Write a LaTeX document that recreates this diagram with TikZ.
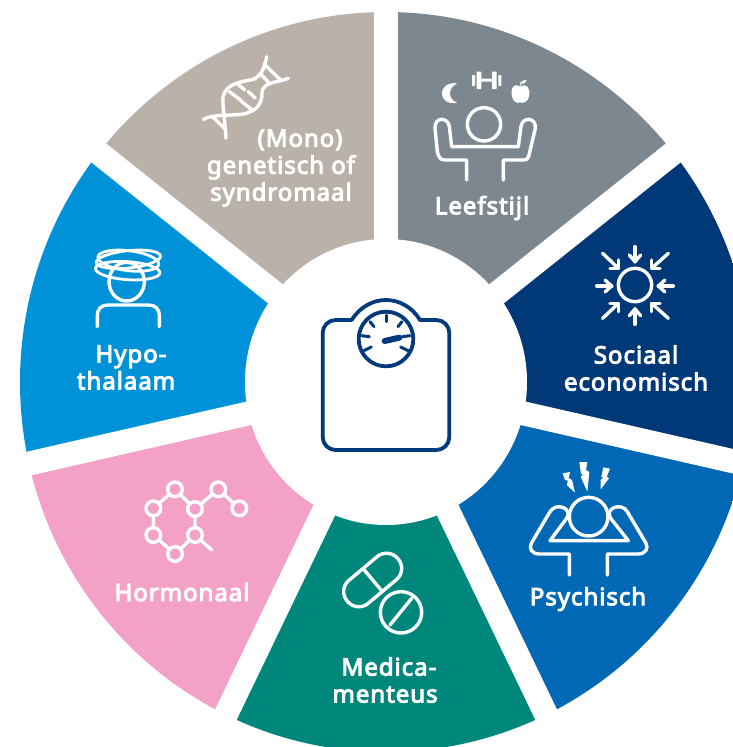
\documentclass[tikz,border=0pt]{standalone}
\usepackage{fontspec}
\setmainfont{Noto Sans}
\newfontfamily\labfont[FakeBold=4,LetterSpace=4]{Noto Sans}
\definecolor{beigec}{HTML}{BAB2A9}
\definecolor{greyc}{HTML}{7C8790}
\definecolor{navyc}{HTML}{003878}
\definecolor{bluec}{HTML}{0068B4}
\definecolor{tealc}{HTML}{00877C}
\definecolor{pinkc}{HTML}{F3A1C6}
\definecolor{skyc}{HTML}{0092D8}
\definecolor{scalec}{HTML}{003A7D}
\tikzset{
  lab/.style={text=white,font=\labfont\fontsize{24}{27}\selectfont,align=center,inner sep=0pt},
  ico/.style={x=0.33333pt,y=-0.33333pt,draw=white,line width=3.4pt,line join=round,line cap=round},
  icofill/.style={fill=white,draw=none},
  gap/.style={draw=white,line width=24pt,line cap=butt}
}
\newcommand{\wedgeat}[4]{\fill[#1] (c) -- ([shift={(#2:900)}]c) -- ([shift={(#3:1500)}]c) -- ([shift={(#4:900)}]c) -- cycle;}
\begin{document}
\begin{tikzpicture}[x=1pt,y=-1pt]
\useasboundingbox (0,0) rectangle (733,747);
\coordinate (c) at (386,382);
\begin{scope}
\clip (0,0) rectangle (733,747);
\clip (c) ellipse[x radius=366,y radius=370];
\wedgeat{beigec}{218.57}{244.3}{270}
\wedgeat{greyc}{-90}{-64.3}{-38.57}
\wedgeat{navyc}{-38.57}{-12.85}{12.86}
\wedgeat{bluec}{12.86}{38.57}{64.29}
\wedgeat{tealc}{64.29}{90}{115.71}
\wedgeat{pinkc}{115.71}{141.43}{167.14}
\wedgeat{skyc}{167.14}{192.85}{218.57}
\end{scope}
\foreach \a in {-90,-38.57,12.86,64.29,115.71,167.14,218.57}
  \draw[gap] (c) -- ([shift={(\a:430)}]c);
\fill[white] (c) ellipse[x radius=141,y radius=143];
% labels
\node[lab] (mono) at (281,168) {\hspace*{38pt}(Mono)\\genetisch of\\syndromaal};
\node[lab] (leef) at (482,208) {Leefstijl};
\node[lab] (soc) at (636,368) {Sociaal\\economisch};
\node[lab] (psy) at (588,599) {Psychisch};
\node[lab] (med) at (385,680) {\hspace*{8pt}Medica-\\menteus};
\node[lab] (hor) at (182,592) {Hormonaal};
\node[lab] (hyp) at (126,367.5) {\hspace*{10pt}Hypo-\\thalaam};
% DNA
\begin{scope}[shift={(190,40)},ico]
\draw (230,50) .. controls (222,90) and (212,108) .. (190,118) .. controls (150,126) and (110,130) .. (99,170) .. controls (97,200) and (105,240) .. (108,295);
\draw (295,115) .. controls (262,128) and (222,125) .. (216,155) .. controls (218,195) and (195,215) .. (160,222) .. controls (120,228) and (70,222) .. (40,238);
\draw (222,72) -- (272,120);
\draw (210,100) -- (235,126);
\draw (70,232) -- (108,270);
\draw (140,130) -- (165,150);
\draw (118,155) -- (152,180);
\draw (175,155) -- (196,174);
\draw (152,182) -- (186,210);
\end{scope}
% Leefstijl
\begin{scope}[shift={(420,60)},ico]
\draw (192,193) circle[radius=50];
\draw (140,360) -- (140,300) -- (75,300) .. controls (60,300) and (55,290) .. (52,275) -- (45,205) .. controls (42,170) and (85,170) .. (88,200) -- (95,260) -- (295,260) -- (303,200) .. controls (306,170) and (349,170) .. (346,205) -- (327,285) .. controls (325,295) and (320,300) .. (310,300) -- (250,300) -- (250,360);
\fill[icofill] (112,70) .. controls (50,62) and (50,140) .. (112,128) .. controls (85,120) and (80,85) .. (112,70) -- cycle;
\fill[icofill,rounded corners=0.6pt] (170,35) rectangle (184,87) (216,35) rectangle (230,87) (156,45) rectangle (165,78) (235,45) rectangle (244,78) (184,56) rectangle (216,65);
\fill[icofill] (300,80) .. controls (280,68) and (272,85) .. (275,105) .. controls (278,125) and (290,132) .. (300,127) .. controls (310,132) and (326,125) .. (328,105) .. controls (331,85) and (320,68) .. (300,80) -- cycle;
\draw[line width=0.8pt] (300,78) -- (304,64);
\fill[icofill] (304,72) .. controls (306,60) and (314,60) .. (320,60) .. controls (318,68) and (312,72) .. (304,72) -- cycle;
\end{scope}
% Sociaal
\begin{scope}[shift={(580,235)},ico]
\draw (165,150) circle[radius=50];
\foreach \xa/\ya/\xb/\yb/\xc/\yc/\xd/\yd in {
  50/153/95/153/75/135/75/171,
  280/153/235/153/255/135/255/171,
  165/35/165/80/148/60/182/60,
  165/268/165/222/148/242/182/242,
  68/55/115/100/90/100/115/75,
  265/55/215/100/240/100/215/75,
  68/250/115/205/90/205/115/230,
  265/250/215/205/240/205/215/230}{
  \draw (\xa,\ya) -- (\xb,\yb);
  \draw (\xc,\yc) -- (\xb,\yb) -- (\xd,\yd);
}
\end{scope}
% Psychisch
\begin{scope}[shift={(510,450)},ico]
\draw (236,200) circle[radius=58];
\draw (178,375) -- (178,312) -- (88,312) .. controls (65,312) and (55,295) .. (65,278) -- (120,185) .. controls (138,155) and (190,175) .. (170,205) -- (120,272) -- (355,272) -- (302,205) .. controls (282,175) and (334,155) .. (352,185) -- (407,278) .. controls (417,295) and (407,312) .. (384,312) -- (292,312) -- (292,375);
\fill[icofill] (158,70) -- (180,66) -- (176,84) -- (186,90) -- (195,128) -- (170,105) -- (174,92) -- (165,90) -- cycle;
\fill[icofill] (208,36) -- (232,36) -- (228,60) -- (238,66) -- (232,125) -- (212,80) -- (220,74) -- (213,72) -- cycle;
\fill[icofill] (280,52) -- (300,56) -- (290,80) -- (297,85) -- (272,118) -- (272,90) -- (280,82) -- (274,80) -- cycle;
\end{scope}
% Pills
\begin{scope}[shift={(330,540)},ico]
\begin{scope}[shift={(128,120)},rotate=40]
\draw[rounded corners=14.5pt] (-99,-45) rectangle (99,45);
\draw (0,-45) -- (0,45);
\end{scope}
\draw (213,217) circle[radius=62];
\draw (180,255) -- (245,175);
\end{scope}
% Molecule
\begin{scope}[shift={(130,470)},ico]
\coordinate (m1) at (135,58);
\coordinate (m2) at (70,115);
\coordinate (m3) at (70,195);
\coordinate (m4) at (135,252);
\coordinate (m5) at (195,195);
\coordinate (m6) at (195,117);
\coordinate (m7) at (265,58);
\coordinate (m8) at (328,115);
\draw (m1) -- (m2) -- (m3) -- (m4) -- (m5) -- (m6) -- (m1);
\draw (m6) -- (m7) -- (m8);
\draw (m5) -- (245,240);
\foreach \m in {m1,m2,m3,m4,m5,m6,m7,m8}
  \filldraw[fill=pinkc] (\m) circle[radius=22];
\end{scope}
% Hypothalamus
\begin{scope}[shift={(80,240)},ico]
\draw (140,125) ellipse[x radius=53,y radius=58];
\draw (52,260) -- (52,228) .. controls (52,205) and (65,195) .. (85,195) -- (205,195) .. controls (225,195) and (238,205) .. (238,228) -- (238,260);
\begin{scope}[line width=2.8pt]
\draw[rotate around={6:(145,58)}] (145,58) ellipse[x radius=97,y radius=26];
\draw[rotate around={-7:(145,62)}] (145,62) ellipse[x radius=92,y radius=30];
\draw[rotate around={-4:(143,92)}] (143,92) ellipse[x radius=97,y radius=27];
\end{scope}
\end{scope}
% Scale
\begin{scope}[shift={(310,285)},ico,draw=scalec,line width=3.8pt]
\draw[rounded corners=13pt] (125,105) -- (38,105) -- (38,495) -- (418,495) -- (418,105) -- (330,105);
\draw (125,105) .. controls (150,65) and (190,45) .. (228,45) .. controls (266,45) and (306,65) .. (330,105);
\draw (228,162) circle[radius=82];
\foreach \xa/\ya/\xb/\yb in {228/90/228/110, 180/110/192/125, 276/110/264/125, 155/152/178/155, 300/152/278/155, 160/198/184/186, 296/198/272/186}
  \draw[line width=3pt] (\xa,\ya) -- (\xb,\yb);
\draw[line width=6pt] (224,168) -- (268,158);
\end{scope}
\end{tikzpicture}
\end{document}
